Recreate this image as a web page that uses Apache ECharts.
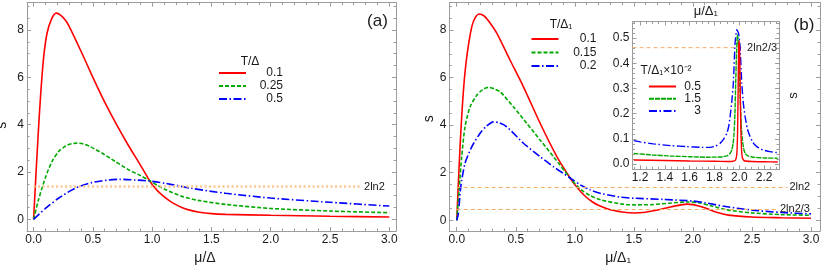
<!DOCTYPE html>
<html><head><meta charset="utf-8">
<script src="https://cdn.jsdelivr.net/npm/echarts@6/dist/echarts.min.js"></script>
<style>html,body{margin:0;padding:0;background:#fff}#c{width:822px;height:270px}</style>
</head><body><div id="c"></div>
<script>
// ---------------- data ----------------
// Panel (a): s vs mu/Delta, T/Delta = 0.1, 0.25, 0.5
const aLabels = ['0.1', '0.25', '0.5'];
const aRed = [[0,0],[0.02,1.9],[0.04,3.7],[0.06,5.3],[0.085,6.85],[0.113,7.85],[0.15,8.45],[0.19,8.71],[0.23,8.62],[0.27,8.4],[0.3,8.15],[0.4,7.1],[0.5,6.0],[0.6,4.95],[0.7,4.0],[0.8,3.12],[0.9,2.3],[0.975,1.66],[1.0,1.47],[1.05,1.18],[1.1,0.96],[1.15,0.77],[1.2,0.62],[1.25,0.5],[1.3,0.41],[1.4,0.3],[1.5,0.24],[1.62,0.21],[2.0,0.17],[2.5,0.13],[3.0,0.1]];
const aGreen = [[0,0],[0.04,0.8],[0.1,1.77],[0.155,2.44],[0.21,2.86],[0.27,3.1],[0.32,3.19],[0.366,3.22],[0.42,3.18],[0.47,3.09],[0.58,2.79],[0.69,2.44],[0.8,2.1],[0.9,1.85],[0.975,1.64],[1.05,1.42],[1.11,1.26],[1.25,0.97],[1.39,0.8],[1.62,0.63],[2.0,0.46],[2.5,0.35],[3.0,0.28]];
const aBlue = [[0,0],[0.1,0.46],[0.21,0.89],[0.35,1.31],[0.49,1.55],[0.63,1.66],[0.73,1.69],[0.86,1.66],[0.975,1.62],[1.11,1.52],[1.33,1.31],[1.62,1.1],[2.0,0.9],[2.5,0.72],[3.0,0.56]];

// Panel (b): s vs mu/Delta1, T/Delta1 = 0.1, 0.15, 0.2
const bLabels = ['0.1', '0.15', '0.2'];
const bRed = [[0,0],[0.028,3.09],[0.057,5.47],[0.085,6.87],[0.127,8.13],[0.16,8.55],[0.192,8.67],[0.23,8.6],[0.27,8.38],[0.34,7.86],[0.45,6.75],[0.565,5.61],[0.707,4.07],[0.849,2.67],[0.96,1.78],[1.0,1.5],[1.05,1.2],[1.1,0.96],[1.15,0.77],[1.2,0.63],[1.3,0.44],[1.4,0.35],[1.5,0.31],[1.6,0.34],[1.7,0.43],[1.8,0.55],[1.9,0.65],[1.95,0.68],[2.0,0.66],[2.1,0.53],[2.2,0.34],[2.3,0.22],[2.5,0.14],[2.75,0.11],[3.0,0.09]];
const bGreen = [[0,0],[0.022,1.41],[0.042,2.67],[0.07,3.93],[0.113,4.77],[0.17,5.26],[0.22,5.5],[0.268,5.59],[0.32,5.52],[0.368,5.4],[0.48,4.77],[0.594,4.07],[0.707,3.37],[0.82,2.67],[0.96,1.78],[1.05,1.3],[1.13,1.04],[1.22,0.86],[1.39,0.69],[1.5,0.65],[1.65,0.66],[1.8,0.72],[1.95,0.77],[2.05,0.74],[2.15,0.61],[2.3,0.43],[2.5,0.31],[2.75,0.24],[3.0,0.21]];
const bBlue = [[0,0],[0.014,0.29],[0.034,1.41],[0.07,2.39],[0.127,3.09],[0.198,3.66],[0.25,3.95],[0.311,4.14],[0.36,4.1],[0.424,3.93],[0.565,3.24],[0.707,2.67],[0.82,2.25],[0.96,1.78],[1.05,1.48],[1.13,1.28],[1.22,1.13],[1.39,0.97],[1.5,0.93],[1.75,0.88],[2.0,0.81],[2.1,0.74],[2.25,0.6],[2.5,0.43],[2.75,0.33],[3.0,0.27]];

// Inset of (b): T/Delta1 x 10^-2 = 0.5, 1.5, 3
const iLabels = ['0.5', '1.5', '3'];
const iRed = [[1.15,0.016],[1.4,0.014],[1.6,0.012],[1.8,0.011],[1.9,0.01],[1.95,0.011],[1.97,0.016],[1.98,0.04],[1.986,0.12],[1.991,0.3],[1.995,0.46],[1.999,0.49],[2.003,0.45],[2.007,0.32],[2.012,0.15],[2.018,0.06],[2.025,0.025],[2.04,0.013],[2.1,0.01],[2.2,0.009],[2.31,0.008]];
const iGreen = [[1.15,0.042],[1.3,0.036],[1.442,0.032],[1.6,0.029],[1.738,0.027],[1.85,0.028],[1.9,0.032],[1.925,0.042],[1.94,0.056],[1.95,0.08],[1.958,0.122],[1.965,0.2],[1.971,0.32],[1.978,0.44],[1.985,0.513],[1.992,0.49],[1.998,0.42],[2.004,0.32],[2.01,0.23],[2.017,0.14],[2.025,0.095],[2.036,0.06],[2.047,0.042],[2.07,0.032],[2.11,0.027],[2.2,0.024],[2.31,0.023]];
const iBlue = [[1.15,0.093],[1.2,0.088],[1.307,0.08],[1.45,0.073],[1.577,0.069],[1.7,0.066],[1.765,0.066],[1.81,0.071],[1.845,0.082],[1.875,0.1],[1.9,0.122],[1.915,0.15],[1.926,0.188],[1.94,0.25],[1.952,0.321],[1.966,0.48],[1.98,0.533],[1.994,0.52],[2.006,0.47],[2.02,0.321],[2.033,0.24],[2.047,0.188],[2.065,0.14],[2.087,0.109],[2.11,0.085],[2.141,0.069],[2.19,0.056],[2.248,0.049],[2.31,0.045]];

// reference values
const ln2x2 = 2 * Math.log(2);
const refA = [{name: '2ln2', value: ln2x2, from: 0, to: 2.77}];
const refB = [{name: '2ln2', value: ln2x2, from: 0, to: 2.8}, {name: '2ln2/3', value: ln2x2 / 3, from: 0, to: 2.72}];
const refI = {name: '2ln2/3', value: ln2x2 / 3, from: 1.14, to: 2.047};

// tick labels
const mainXTicks = [0, 0.5, 1, 1.5, 2, 2.5, 3];
const mainYTicks = [0, 2, 4, 6, 8];
const insetXTicks = [1.2, 1.4, 1.6, 1.8, 2.0, 2.2];
const insetYTicks = [0, 0.1, 0.2, 0.3, 0.4, 0.5];

// ---------------- styling ----------------
const FONT = '"Liberation Sans", Arial, sans-serif';
const GRAY = '#9c9c9c';
const TXT = '#1a1a1a';
const RED = '#ff0000', GREEN = '#00aa00', BLUE = '#0000ff';
const ORANGE = '#f4ad66';
const DASH = [4, 2];
const DASHDOT = [8, 2.5, 1.5, 2.5];

function steps(a, b, s) { const r = []; for (let k = 0; a + k * s <= b + 1e-9; k++) r.push(+(a + k * s).toFixed(4)); return r; }

function axisSet(grid, min, max, majors, minors, pos, label, extra) {
  const ls = {color: GRAY, width: 1};
  const base = {type: 'value', gridIndex: grid, min: min, max: max, position: pos, splitLine: {show: false}, axisPointer: {show: false}};
  const major = Object.assign({}, base, {
    axisLine: {show: true, onZero: false, lineStyle: ls},
    axisTick: {show: true, inside: true, length: 4, lineStyle: ls, customValues: majors},
    axisLabel: label ? Object.assign({show: true, customValues: majors, color: TXT, fontFamily: FONT, fontSize: 12}, label) : {show: false}
  }, extra || {});
  const minor = Object.assign({}, base, {
    axisLine: {show: false, onZero: false},
    axisTick: {show: true, inside: true, length: 2.5, lineStyle: ls, customValues: minors},
    axisLabel: {show: false}
  });
  return [major, minor];
}

const f1 = v => v.toFixed(1), f0 = v => v.toFixed(0);
const nameStyle = {color: TXT, fontFamily: FONT, fontSize: 14};

// panel ranges
const A = {xmin: -0.0556, xmax: 3.0567, ymin: -0.493, ymax: 9.152};
const B = {xmin: -0.063, xmax: 3.076, ymin: -0.449, ymax: 9.148};
const I = {xmin: 1.1396, xmax: 2.32, ymin: -0.021, ymax: 0.566};

const xAxes = [].concat(
  axisSet(0, A.xmin, A.xmax, mainXTicks, steps(0, 3, 0.1), 'bottom', {formatter: f1, margin: 3},
    {name: 'μ/Δ', nameLocation: 'middle', nameGap: 19, nameTextStyle: Object.assign({padding: [0, 13, 0, 0]}, nameStyle)}),
  axisSet(0, A.xmin, A.xmax, mainXTicks, steps(0, 3, 0.1), 'top', null),
  axisSet(1, B.xmin, B.xmax, mainXTicks, steps(0, 3, 0.1), 'bottom', {formatter: f1, margin: 3},
    {name: 'μ/Δ₁', nameLocation: 'middle', nameGap: 19, nameTextStyle: Object.assign({padding: [0, 33, 0, 0]}, nameStyle)}),
  axisSet(1, B.xmin, B.xmax, mainXTicks, steps(0, 3, 0.1), 'top', null),
  axisSet(2, I.xmin, I.xmax, insetXTicks, steps(1.15, 2.3, 0.05), 'bottom', {formatter: f1, margin: 2}),
  axisSet(2, I.xmin, I.xmax, insetXTicks, steps(1.15, 2.3, 0.05), 'top', null,
    {name: 'μ/Δ₁', nameLocation: 'middle', nameGap: 4, nameTextStyle: Object.assign({}, nameStyle, {fontSize: 13})})
);
const yAxes = [].concat(
  axisSet(0, A.ymin, A.ymax, mainYTicks, steps(0, 9, 0.5), 'left', {formatter: f0, margin: 3},
    {name: 's', nameLocation: 'middle', nameGap: 18, nameTextStyle: Object.assign({padding: [0, 17, 0, 0]}, nameStyle)}),
  axisSet(0, A.ymin, A.ymax, mainYTicks, steps(0, 9, 0.5), 'right', null),
  axisSet(1, B.ymin, B.ymax, mainYTicks, steps(0, 9, 0.5), 'left', {formatter: f0, margin: 3},
    {name: 's', nameLocation: 'middle', nameGap: 2, nameTextStyle: Object.assign({padding: [0, 4, 0, 0]}, nameStyle)}),
  axisSet(1, B.ymin, B.ymax, mainYTicks, steps(0, 9, 0.5), 'right', null),
  axisSet(2, I.ymin, I.ymax, insetYTicks, steps(0, 0.56, 0.02), 'left', {formatter: f1, margin: 3}),
  axisSet(2, I.ymin, I.ymax, insetYTicks, steps(0, 0.56, 0.02), 'right', null,
    {name: 's', nameLocation: 'middle', nameGap: 8, nameRotate: 90, nameTextStyle: Object.assign({}, nameStyle, {fontSize: 13})})
);

const refLabel = {color: TXT, fontFamily: FONT, fontSize: 11};

function markLines(refs, style) {
  return {
    silent: true, symbol: ['none', 'none'], animation: false,
    lineStyle: style,
    label: Object.assign({show: true, position: 'end', formatter: '{b}', distance: 2}, refLabel),
    data: refs.map(r => [{name: r.name, coord: [r.from, r.value]}, {coord: [r.to, r.value]}])
  };
}

function ser(name, data, xi, yi, color, dash, width, extra) {
  return Object.assign({
    type: 'line', name: name, data: data, xAxisIndex: xi, yAxisIndex: yi,
    showSymbol: false, symbol: 'none', smooth: 0.25, clip: true,
    lineStyle: {color: color, width: width, type: dash}, itemStyle: {color: color},
    emphasis: {disabled: true}, animation: false, z: 3
  }, extra || {});
}

const series = [
  ser('a:' + aLabels[0], aRed, 0, 0, RED, 'solid', 1.6, {markLine: markLines(refA, {color: '#fbc68c', width: 2.5, type: [2, 2.5]})}),
  ser('a:' + aLabels[1], aGreen, 0, 0, GREEN, DASH, 1.6),
  ser('a:' + aLabels[2], aBlue, 0, 0, BLUE, DASHDOT, 1.6),
  ser('b:' + bLabels[0], bRed, 4, 4, RED, 'solid', 1.6, {markLine: markLines(refB, {color: ORANGE, width: 1, type: [4, 3]})}),
  ser('b:' + bLabels[1], bGreen, 4, 4, GREEN, DASH, 1.6),
  ser('b:' + bLabels[2], bBlue, 4, 4, BLUE, DASHDOT, 1.6),
  // inset reference line 2ln2/3 with its end label
  ser('ref:inset', [[refI.from, refI.value], [refI.to, refI.value]], 8, 8, ORANGE, [4, 3], 1,
    {smooth: false, z: 2, endLabel: Object.assign({show: true, formatter: refI.name, distance: 2}, refLabel)}),
  ser('i:' + iLabels[0], iRed, 8, 8, RED, 'solid', 1.4, {smooth: 0.15, z: 4}),
  ser('i:' + iLabels[1], iGreen, 8, 8, GREEN, [5, 1], 1.4, {smooth: 0.15}),
  ser('i:' + iLabels[2], iBlue, 8, 8, BLUE, DASHDOT, 1.4, {smooth: 0.15})
];

function legendCfg(prefix, labels, left, top, w, gap) {
  return {
    data: labels.map(l => prefix + ':' + l), orient: 'vertical', left: left, top: top,
    itemWidth: 27, itemHeight: 14, itemGap: gap, padding: 0, selectedMode: false,
    itemStyle: {opacity: 0},
    formatter: n => '{r|' + n.split(':')[1] + '}',
    textStyle: {color: TXT, fontFamily: FONT, fontSize: 12, rich: {r: {width: w, align: 'right', fontSize: 12, fontFamily: FONT, lineHeight: 14, color: TXT}}}
  };
}

const txt = (x, y, text, size, align) => ({type: 'text', x: x, y: y, silent: true,
  style: {text: text, fill: TXT, font: size + 'px ' + FONT, align: align || 'center', verticalAlign: 'middle'}});

const chart = echarts.init(document.getElementById('c'), null, {renderer: 'canvas'});
chart.setOption({
  animation: false,
  backgroundColor: '#ffffff',
  grid: [
    {left: 27, top: 2.7, width: 369, height: 228.3, outerBoundsMode: 'none', containLabel: false},
    {left: 449.3, top: 2.7, width: 370.7, height: 228.3, outerBoundsMode: 'none', containLabel: false},
    {left: 632.5, top: 21.5, width: 146.5, height: 147.8, outerBoundsMode: 'none', containLabel: false}
  ],
  xAxis: xAxes,
  yAxis: yAxes,
  legend: [
    legendCfg('a', aLabels, 218, 67, 32, 1),
    legendCfg('b', bLabels, 530.5, 33, 33, 1.5),
    legendCfg('i', iLabels, 648, 80.5, 20, 0.3)
  ],
  graphic: [
    txt(250, 62, 'T/Δ', 12),
    txt(561, 25, 'T/Δ₁', 12),
    txt(640.5, 71, 'T/Δ₁×10⁻²', 12, 'left'),
    txt(377.5, 21, '(a)', 17),
    txt(804, 25, '(b)', 17)
  ],
  series: series
});
</script>
</body></html>
